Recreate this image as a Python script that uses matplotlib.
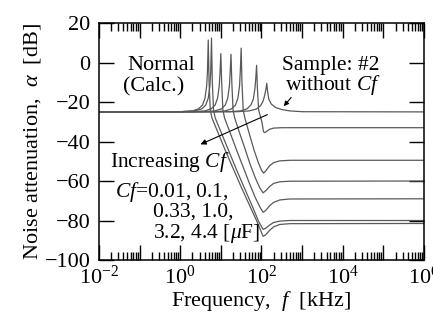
import numpy as np
import matplotlib
matplotlib.use('Agg')
from matplotlib import pyplot as plt
import matplotlib.ticker

plt.rcParams['font.family'] = ['Liberation Serif', 'DejaVu Serif']
plt.rcParams['mathtext.fontset'] = 'custom'
plt.rcParams['mathtext.rm'] = 'Liberation Serif'
plt.rcParams['mathtext.it'] = 'Liberation Serif:italic'

# log10 of frequency [kHz] and attenuation [dB]
lf_none = [-2, 1.4, 1.7, 1.88, 1.98, 2.04, 2.08, 2.11, 2.13, 2.15, 2.18, 2.24, 2.35, 2.5, 2.7, 3.0, 6]
db_none = [-25, -24.9, -24.5, -23.5, -21.8, -19.5, -16.5, -13.5, -10.5, -14.5, -18.5, -21, -22.8, -23.8, -24.5, -24.9, -25]

lf_001 = [-2, 1.2, 1.48, 1.64, 1.74, 1.80, 1.84, 1.86, 1.88, 1.90, 1.93, 1.97, 2.01, 2.05, 2.08, 2.12, 2.2, 2.3, 2.5, 6]
db_001 = [-25, -24.9, -24.5, -23.5, -21.5, -18.5, -13, -8, -1.4, -13, -24, -27, -30, -35, -35.5, -35, -33.8, -33.2, -33, -33]

lf_01 = [-2, 0.85, 1.1, 1.26, 1.36, 1.42, 1.46, 1.48, 1.50, 1.52, 1.55, 1.59, 1.7, 1.82, 1.92, 2.0, 2.05, 2.1, 2.2, 2.3, 2.45, 2.7, 6]
db_01 = [-25, -24.9, -24.5, -23.5, -21.5, -18, -12, -4, 7.3, -10, -24, -28, -36, -44.5, -50.5, -54.5, -56, -55, -52.3, -50.7, -49.8, -49.5, -49.5]

lf_033 = [-2, 0.6, 0.85, 1.01, 1.11, 1.17, 1.21, 1.23, 1.25, 1.27, 1.30, 1.34, 1.45, 1.6, 1.72, 1.85, 1.96, 2.04, 2.1, 2.2, 2.3, 2.45, 2.7, 6]
db_033 = [-25, -24.9, -24.5, -23.5, -21.5, -18, -12, -5, 4.2, -10, -24, -28, -35, -44, -51.5, -58.5, -63.5, -66, -65, -62.8, -61.2, -60.4, -60.1, -60]

lf_10 = [-2, 0.3, 0.6, 0.76, 0.86, 0.92, 0.96, 0.98, 1.0, 1.02, 1.05, 1.09, 1.2, 1.4, 1.56, 1.7, 1.85, 1.97, 2.04, 2.1, 2.2, 2.3, 2.45, 2.7, 6]
db_10 = [-25, -24.9, -24.5, -23.5, -21.5, -18, -12, -5, 4.5, -10, -24, -28, -34, -45, -53.5, -61, -68.5, -73.5, -75.8, -75, -72.5, -70.8, -69.6, -69.1, -69]

lf_32 = [-2, 0.0, 0.35, 0.53, 0.63, 0.69, 0.73, 0.75, 0.77, 0.79, 0.82, 0.86, 1.0, 1.2, 1.4, 1.6, 1.8, 1.93, 2.04, 2.1, 2.2, 2.3, 2.45, 2.7, 6]
db_32 = [-25, -24.9, -24.5, -23.5, -21.5, -18, -12, -5, 12.4, -10, -24, -28, -35, -45, -55, -64.5, -74, -80.5, -84.5, -84, -82.3, -81, -80.3, -80, -80]

lf_44 = [-2, 0.0, 0.3, 0.45, 0.55, 0.61, 0.65, 0.67, 0.69, 0.71, 0.74, 0.78, 0.9, 1.1, 1.3, 1.5, 1.7, 1.9, 1.98, 2.04, 2.1, 2.2, 2.3, 2.45, 2.7, 6]
db_44 = [-25, -24.9, -24.5, -23.5, -21.5, -18, -12, -5, 11.4, -10, -24, -28, -34, -44, -53.5, -63, -72, -81, -85, -88, -87.3, -85, -83.2, -82, -81.6, -81.5]

curves = [(lf_none, db_none), (lf_001, db_001), (lf_01, db_01), (lf_033, db_033),
          (lf_10, db_10), (lf_32, db_32), (lf_44, db_44)]

fs = 16

fig = plt.figure(figsize=(4.33, 3.2), dpi=100)
ax = fig.add_axes([0.2286, 0.1875, 0.7505, 0.7405])

for lf, db in curves:
    ax.plot(10**np.array(lf), db, '-', color='0.35', lw=0.9)

ax.set_xscale('log')
ax.set_xlim(1e-2, 1e6)
ax.set_ylim(-100, 20)
ax.set_yticks(range(-100, 21, 20))

def format_ticks(value, tick_number):
    e = int(round(np.log10(value)))
    if e % 2 == 0:
        return r'$10^{%d}$' % e
    return ''

ax.xaxis.set_major_locator(matplotlib.ticker.LogLocator(base=10, numticks=20))
ax.xaxis.set_minor_locator(matplotlib.ticker.LogLocator(base=10, subs=range(2, 10), numticks=100))
ax.xaxis.set_major_formatter(plt.FuncFormatter(format_ticks))
ax.xaxis.set_minor_formatter(matplotlib.ticker.NullFormatter())

ax.tick_params(which='both', direction='in', top=True, right=True, width=1.0, labelsize=fs)
ax.tick_params(which='major', length=11)
ax.tick_params(which='minor', length=5.5)
ax.tick_params(axis='y', pad=6)
ax.tick_params(axis='x', pad=4)
for s in ax.spines.values():
    s.set_linewidth(1.1)

ax.set_xlabel(r'Frequency,  $f$  [kHz]', fontsize=fs, labelpad=0)
ax.set_ylabel(r'Noise attenuation,  $\alpha$  [dB]', fontsize=fs, labelpad=1)

# annotations
ax.text(10**-1.31, -1.3, 'Normal', fontsize=fs, va='center', ha='left')
ax.text(10**-1.41, -12.3, '(Calc.)', fontsize=fs, va='center', ha='left')
ax.text(10**2.506, -1.3, 'Sample: #2', fontsize=15.5, va='center', ha='left')
ax.text(10**2.58, -11.5, r'without $Cf$', fontsize=15.5, va='center', ha='left')
ax.text(10**-1.73, -50.2, r'Increasing $Cf$', fontsize=15.5, va='center', ha='left')
ax.text(10**-1.606, -65.4, r'$Cf$=0.01, 0.1,', fontsize=15.5, va='center', ha='left')
ax.text(10**-0.67, -75.6, '0.33, 1.0,', fontsize=15.5, va='center', ha='left')
ax.text(10**-0.67, -86.5, r'3.2, 4.4 [$\mu$F]', fontsize=15.5, va='center', ha='left')

ax.annotate('', xy=(10**2.506, -23.2), xytext=(10**2.775, -16.6),
            arrowprops=dict(arrowstyle='-|>', color='k', lw=0.8, mutation_scale=7))
ax.annotate('', xy=(10**0.437, -42.0), xytext=(10**2.209, -25.8),
            arrowprops=dict(arrowstyle='-|>', color='k', lw=0.8, mutation_scale=8))

fig.savefig('out.png', dpi=100)
